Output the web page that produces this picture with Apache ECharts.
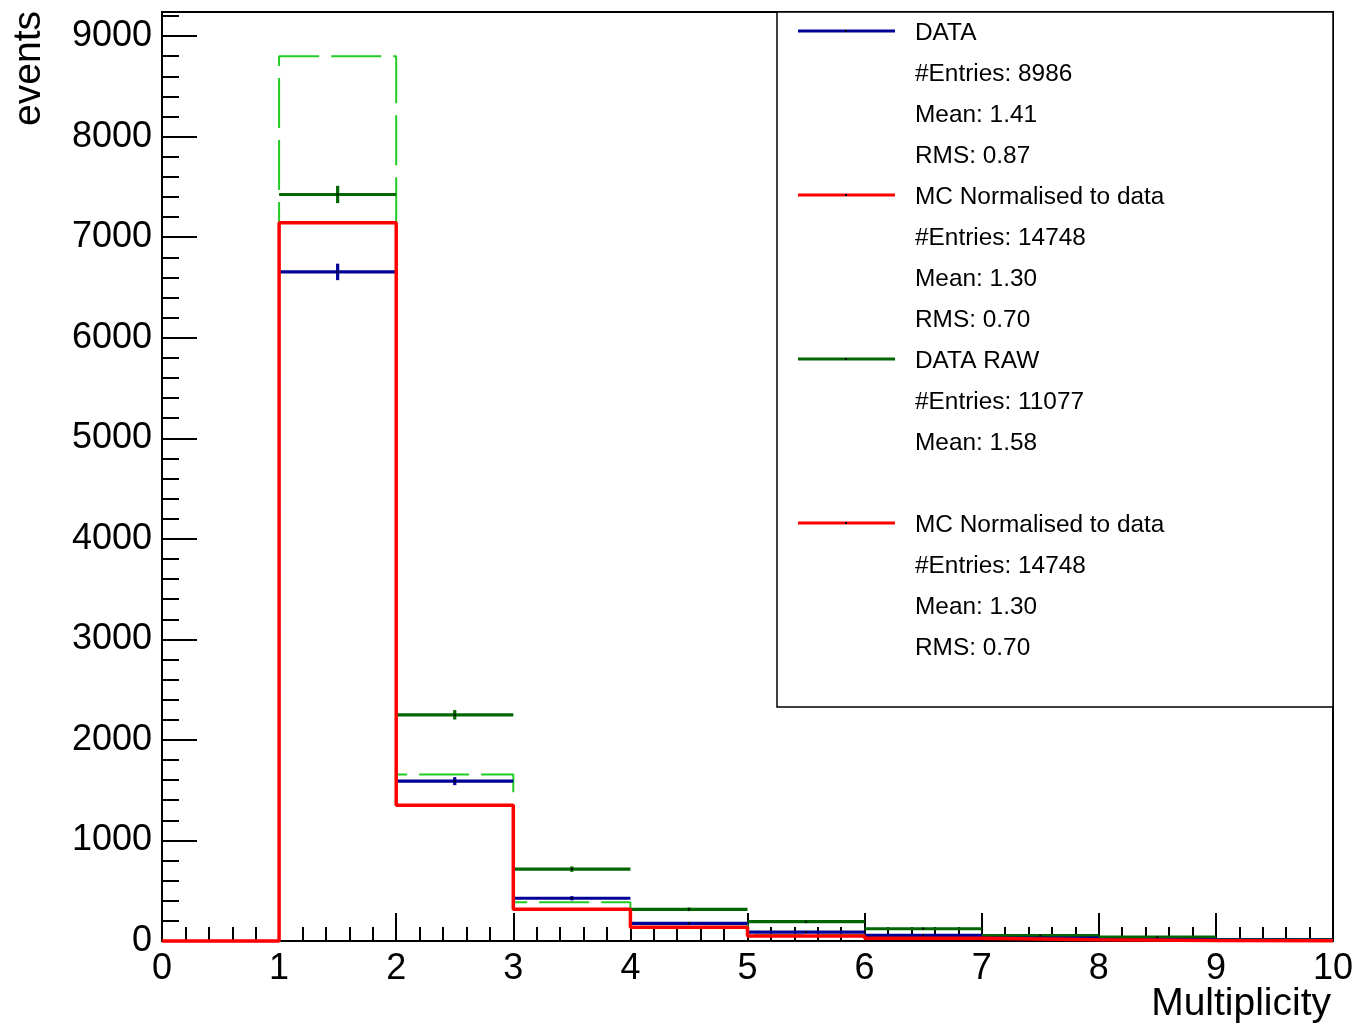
<!DOCTYPE html>
<html>
<head>
<meta charset="utf-8">
<script src="https://cdn.jsdelivr.net/npm/echarts@6/dist/echarts.min.js"></script>
<style>
  html, body { margin: 0; padding: 0; background: #fff; }
  #chart { width: 1356px; height: 1027px; }
</style>
</head>
<body>
<div id="chart"></div>
<script>
// Multiplicity histograms: unit bins from 0 to 10
const binEdges = [0, 1, 2, 3, 4, 5, 6, 7, 8, 9, 10];

// Entries per bin
const dataCounts = [0, 6655, 1590, 425, 176, 89, 55, 28, 15, 8];
const dataErrors = [0, 82, 40, 21, 13, 9, 7, 5, 4, 3];
const rawCounts  = [0, 7425, 2250, 715, 315, 192, 122, 53, 38, 15];
const rawErrors  = [0, 86, 47, 27, 18, 14, 11, 7, 6, 4];
const mcNormData = [0, 7145, 1350, 315, 136, 50, 27, 13, 5, 2];
const mcNormRaw  = [0, 8800, 1657, 385, 167, 60, 33, 16, 6, 2];

// Axis tick labels
const xTickLabels = ['0', '1', '2', '3', '4', '5', '6', '7', '8', '9', '10'];
const yTickLabels = ['0', '1000', '2000', '3000', '4000', '5000', '6000', '7000', '8000', '9000'];

// Legend contents
const legendLabels = ['DATA', 'MC Normalised to data', 'DATA RAW', 'MC Normalised to data'];
const legendStats = [
  ['#Entries: 8986', 'Mean: 1.41', 'RMS: 0.87'],
  ['#Entries: 14748', 'Mean: 1.30', 'RMS: 0.70'],
  ['#Entries: 11077', 'Mean: 1.58', ''],
  ['#Entries: 14748', 'Mean: 1.30', 'RMS: 0.70']
];

const FONT = '"Liberation Sans", Arial, Helvetica, sans-serif';
const BLUE = '#000099';
const DKGREEN = '#006600';
const LTGREEN = '#22cc22';
const RED = '#ff0000';
const legendColors = [BLUE, RED, DKGREEN, RED];

// Outline of a histogram as a stepped polyline over the bin edges
function stepPoints(counts) {
  const pts = counts.map((c, i) => [binEdges[i], c]);
  pts.push([binEdges[binEdges.length - 1], counts[counts.length - 1]]);
  return pts;
}

// Points with horizontal bin-width bars and vertical statistical error bars
function errorBarSeries(name, counts, errors, color, z) {
  const items = [];
  counts.forEach((c, i) => {
    if (c > 0) items.push([binEdges[i], binEdges[i + 1], c, errors[i]]);
  });
  return {
    type: 'custom',
    name: name,
    z: z,
    clip: false,
    encode: { x: [0, 1], y: 2 },
    data: items,
    renderItem: function (params, api) {
      const lo = api.value(0), hi = api.value(1), v = api.value(2), e = api.value(3);
      const mid = (lo + hi) / 2;
      const a = api.coord([lo, v]), b = api.coord([hi, v]);
      const t = api.coord([mid, v + e]), u = api.coord([mid, v - e]);
      const c = api.coord([mid, v]);
      const style = { stroke: color, lineWidth: 3.2 };
      return {
        type: 'group',
        children: [
          { type: 'line', shape: { x1: a[0], y1: a[1], x2: b[0], y2: b[1] }, style: style },
          { type: 'line', shape: { x1: t[0], y1: t[1], x2: u[0], y2: u[1] }, style: style },
          { type: 'rect', shape: { x: c[0] - 1, y: c[1] - 1, width: 2, height: 2 }, style: { fill: '#000' } }
        ]
      };
    }
  };
}

// Legend box built from the label and statistics lists
function legendGraphics() {
  const els = [{
    type: 'rect', z: 50,
    shape: { x: 777, y: 12, width: 556, height: 695 },
    style: { fill: '#fff', stroke: '#000', lineWidth: 1.5 }
  }];
  const rowH = 41, firstRow = 31;
  legendLabels.forEach((label, k) => {
    const y0 = firstRow + rowH * 4 * k;
    els.push({ type: 'line', z: 51, shape: { x1: 798, y1: y0, x2: 895, y2: y0 },
               style: { stroke: legendColors[k], lineWidth: 3 } });
    els.push({ type: 'rect', z: 52, shape: { x: 845, y: y0 - 1, width: 2, height: 2 },
               style: { fill: '#000' } });
    const rows = [label].concat(legendStats[k]);
    rows.forEach((txt, r) => {
      if (!txt) return;
      els.push({ type: 'text', z: 51, x: 915, y: y0 + 2 + rowH * r,
                 style: { text: txt, font: '24.4px ' + FONT, fill: '#000',
                          textAlign: 'left', textVerticalAlign: 'middle' } });
    });
  });
  return els;
}

const chart = echarts.init(document.getElementById('chart'), null, { renderer: 'canvas' });

chart.setOption({
  animation: false,
  backgroundColor: '#fff',
  grid: {
    left: 162, top: 12, right: 23, bottom: 86,
    show: true, borderColor: '#000', borderWidth: 2,
    containLabel: false, outerBoundsMode: 'none'
  },
  xAxis: {
    type: 'value', min: 0, max: 10, interval: 1,
    axisLine: { show: true, onZero: false, lineStyle: { color: '#000', width: 2 } },
    axisTick: { show: true, inside: true, length: 28, lineStyle: { color: '#000', width: 2 } },
    minorTick: { show: true, splitNumber: 5, length: 14, lineStyle: { color: '#000', width: 2 } },
    axisLabel: {
      show: true, margin: 10, color: '#000', fontSize: 36, fontFamily: FONT,
      showMinLabel: true, showMaxLabel: true,
      formatter: function (v) { return xTickLabels[Math.round(v)] || ''; }
    },
    splitLine: { show: false }, minorSplitLine: { show: false }
  },
  yAxis: [
    {
      type: 'value', min: 0, max: 9240, interval: 1000,
      axisLine: { show: true, onZero: false, lineStyle: { color: '#000', width: 2 } },
      axisTick: { show: true, inside: true, length: 35, lineStyle: { color: '#000', width: 2 } },
      axisLabel: {
        show: true, margin: 10, color: '#000', fontSize: 36, fontFamily: FONT,
        showMinLabel: true, showMaxLabel: false,
        formatter: function (v) { return v % 1000 === 0 ? (yTickLabels[v / 1000] || '') : ''; }
      },
      splitLine: { show: false }
    },
    {
      // secondary scale carrying the 200-step minor ticks
      type: 'value', min: 0, max: 9240, interval: 200, position: 'left',
      axisLine: { show: false },
      axisTick: { show: true, inside: true, length: 17, lineStyle: { color: '#000', width: 2 } },
      axisLabel: { show: false },
      splitLine: { show: false }
    }
  ],
  series: [
    {
      type: 'line', name: 'MC normalised to data raw', z: 1, clip: false,
      step: 'end', symbol: 'none', data: stepPoints(mcNormRaw),
      lineStyle: { color: LTGREEN, width: 2, type: [50, 12] }
    },
    errorBarSeries('DATA RAW', rawCounts, rawErrors, DKGREEN, 2),
    errorBarSeries('DATA', dataCounts, dataErrors, BLUE, 3),
    {
      type: 'line', name: 'MC Normalised to data', z: 4, clip: false,
      step: 'end', symbol: 'none', data: stepPoints(mcNormData),
      lineStyle: { color: RED, width: 3.5 }
    }
  ],
  graphic: legendGraphics().concat([
    {
      type: 'text', x: 29, y: 11, rotation: Math.PI / 2,
      style: { text: 'events', font: '39px ' + FONT, fill: '#000',
               textAlign: 'right', textVerticalAlign: 'middle' }
    },
    {
      type: 'text', x: 1331, y: 1004,
      style: { text: 'Multiplicity', font: '39px ' + FONT, fill: '#000',
               textAlign: 'right', textVerticalAlign: 'middle' }
    }
  ])
});
</script>
</body>
</html>
